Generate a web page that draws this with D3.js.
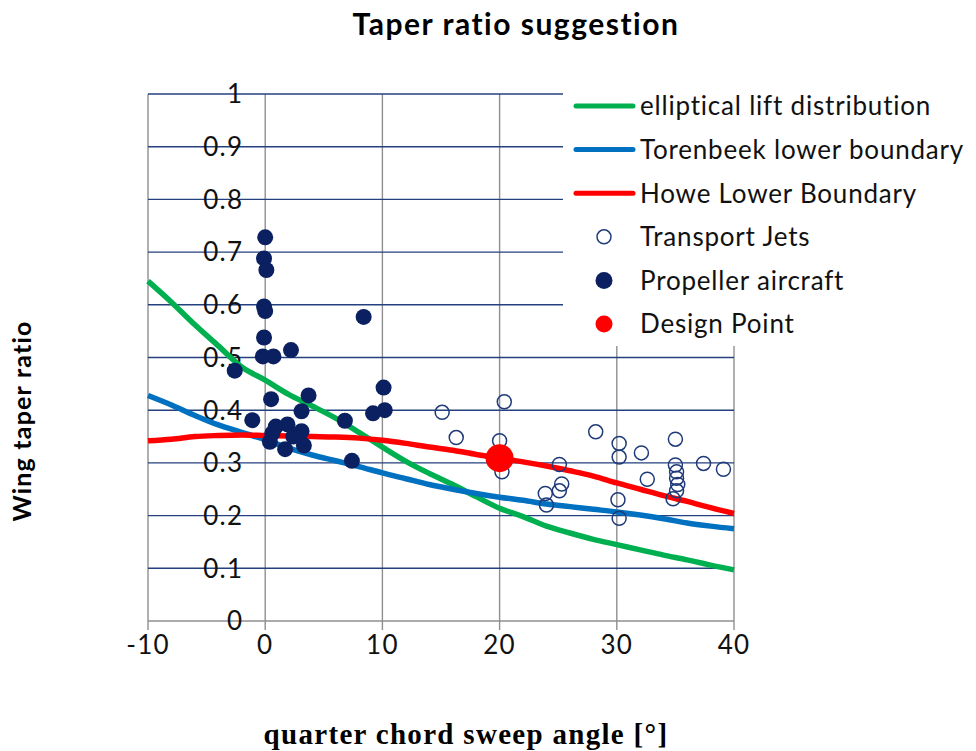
<!DOCTYPE html>
<html>
<head>
<meta charset="utf-8">
<script src="https://cdn.jsdelivr.net/npm/d3@7"></script>
<style>
  html, body { margin: 0; padding: 0; background: #fff; }
  svg { display: block; }
</style>
</head>
<body>
<svg id="chart" width="976" height="751"></svg>
<script>
// Sweep angle sample points for the boundary curves (deg)
const sweepGrid = [-10, -8, -6, -4, -2, 0, 2, 4, 6, 8, 10, 12, 14, 16, 18, 20, 22, 24, 26, 28, 30, 32, 34, 36, 38, 40];
const ellipticalLift = [0.645, 0.605, 0.562, 0.522, 0.482, 0.457, 0.430, 0.408, 0.385, 0.358, 0.330, 0.303, 0.280, 0.259, 0.236, 0.214, 0.198, 0.180, 0.167, 0.155, 0.145, 0.135, 0.125, 0.116, 0.106, 0.097];
const torenbeekLower = [0.428, 0.410, 0.390, 0.372, 0.358, 0.344, 0.328, 0.315, 0.304, 0.293, 0.281, 0.270, 0.259, 0.250, 0.242, 0.235, 0.229, 0.222, 0.217, 0.212, 0.207, 0.201, 0.194, 0.186, 0.180, 0.175];
const howeLower = [0.342, 0.345, 0.350, 0.352, 0.353, 0.352, 0.351, 0.350, 0.349, 0.347, 0.343, 0.337, 0.330, 0.324, 0.316, 0.309, 0.302, 0.294, 0.285, 0.275, 0.262, 0.250, 0.238, 0.227, 0.215, 0.204];

// Transport jets: sweep angle and taper ratio
const jetSweep = [15.1, 20.4, 16.3, 20.0, 20.2, 25.1, 25.3, 25.1, 23.9, 24.0, 28.2, 30.2, 30.2, 32.1, 32.6, 30.1, 30.2, 35.0, 35.0, 35.1, 35.1, 35.2, 35.1, 34.8, 37.4, 39.1];
const jetTaper = [0.396, 0.416, 0.348, 0.342, 0.283, 0.297, 0.260, 0.247, 0.242, 0.220, 0.359, 0.337, 0.311, 0.319, 0.269, 0.230, 0.195, 0.345, 0.296, 0.283, 0.271, 0.259, 0.247, 0.232, 0.299, 0.288];

// Propeller aircraft: sweep angle and taper ratio
const propSweep = [0.0, -0.1, 0.1, -0.1, 0.0, 8.4, -0.1, -0.2, 0.7, 2.2, -2.6, 10.1, 0.5, 3.7, -1.1, 3.1, 6.8, 9.2, 10.2, 0.9, 1.9, 0.6, 3.1, 0.4, 2.4, 1.7, 3.3, 7.4];
const propTaper = [0.728, 0.688, 0.666, 0.597, 0.588, 0.577, 0.538, 0.502, 0.502, 0.514, 0.475, 0.443, 0.421, 0.428, 0.381, 0.398, 0.380, 0.394, 0.400, 0.369, 0.373, 0.356, 0.360, 0.340, 0.350, 0.326, 0.333, 0.304];

// Chosen design point
const designSweep = [20.0];
const designTaper = [0.309];

// Axis ticks
const xTicks = [-10, 0, 10, 20, 30, 40];
const yTicks = [0, 0.1, 0.2, 0.3, 0.4, 0.5, 0.6, 0.7, 0.8, 0.9, 1];
const yTickLabels = ["0", "0.1", "0.2", "0.3", "0.4", "0.5", "0.6", "0.7", "0.8", "0.9", "1"];

const legendItems = [
  { label: "elliptical lift distribution", type: "line", color: "#00b050" },
  { label: "Torenbeek lower boundary", type: "line", color: "#0070c0" },
  { label: "Howe Lower Boundary", type: "line", color: "#ff0000" },
  { label: "Transport Jets", type: "open", color: "#1f3a78" },
  { label: "Propeller aircraft", type: "dot", color: "#0b2060" },
  { label: "Design Point", type: "dot", color: "#ff0000" }
];

const svg = d3.select("#chart");
const sansFont = "Lato, 'Open Sans', 'DejaVu Sans', sans-serif";

const x = d3.scaleLinear().domain([-10, 40]).range([148, 734]);
const y = d3.scaleLinear().domain([0, 1]).range([621, 94]);

const grid = svg.append("g");

// vertical gridlines (extend below the axis as tick marks)
grid.selectAll("line.v").data(xTicks).join("line")
  .attr("x1", d => x(d)).attr("x2", d => x(d))
  .attr("y1", y(1)).attr("y2", y(0) + 9)
  .attr("stroke", "#8f8f8f").attr("stroke-width", 1.4);

// horizontal gridlines
grid.selectAll("line.h").data(yTicks).join("line")
  .attr("x1", x(-10)).attr("x2", x(40))
  .attr("y1", d => y(d)).attr("y2", d => y(d))
  .attr("stroke", d => d === 0 ? "#8f8f8f" : "#24407e")
  .attr("stroke-width", 1.4);

// y tick labels sit left of the axis at zero sweep
svg.append("g").selectAll("text").data(yTicks).join("text")
  .attr("x", x(0) - 22).attr("y", d => y(d))
  .attr("dy", "0.36em")
  .attr("text-anchor", "end")
  .attr("font-family", sansFont).attr("font-size", 26)
  .attr("letter-spacing", 1.2)
  .attr("fill", "#111")
  .text((d, i) => yTickLabels[i]);

// x tick labels
svg.append("g").selectAll("text").data(xTicks).join("text")
  .attr("x", d => x(d)).attr("y", y(0) + 33)
  .attr("text-anchor", "middle")
  .attr("font-family", sansFont).attr("font-size", 26)
  .attr("letter-spacing", 1.2)
  .attr("fill", "#111")
  .text(d => d);

// boundary curves
const line = d3.line()
  .x(d => x(d[0])).y(d => y(d[1]))
  .curve(d3.curveMonotoneX);

const curves = [
  { values: ellipticalLift, color: "#00b050" },
  { values: torenbeekLower, color: "#0070c0" },
  { values: howeLower, color: "#ff0000" }
];
svg.append("g").selectAll("path").data(curves).join("path")
  .attr("d", c => line(sweepGrid.map((s, i) => [s, c.values[i]])))
  .attr("fill", "none")
  .attr("stroke", c => c.color)
  .attr("stroke-width", 5.5)
  .attr("stroke-linejoin", "round");

// transport jets (open circles)
svg.append("g").selectAll("circle").data(jetSweep.map((s, i) => [s, jetTaper[i]])).join("circle")
  .attr("cx", d => x(d[0])).attr("cy", d => y(d[1]))
  .attr("r", 7)
  .attr("fill", "none")
  .attr("stroke", "#1f3a78").attr("stroke-width", 1.5);

// propeller aircraft (filled)
svg.append("g").selectAll("circle").data(propSweep.map((s, i) => [s, propTaper[i]])).join("circle")
  .attr("cx", d => x(d[0])).attr("cy", d => y(d[1]))
  .attr("r", 8)
  .attr("fill", "#0b2060");

// design point
svg.append("g").selectAll("circle").data(designSweep.map((s, i) => [s, designTaper[i]])).join("circle")
  .attr("cx", d => x(d[0])).attr("cy", d => y(d[1]))
  .attr("r", 14)
  .attr("fill", "#ff0000");

// legend
const legend = svg.append("g");
legend.append("rect")
  .attr("x", 563).attr("y", 84).attr("width", 413).attr("height", 262)
  .attr("fill", "#fff");
const rows = legend.selectAll("g").data(legendItems).join("g")
  .attr("transform", (d, i) => `translate(0, ${106 + i * 43.6})`);
rows.filter(d => d.type === "line").append("line")
  .attr("x1", 576).attr("x2", 633).attr("y1", 0).attr("y2", 0)
  .attr("stroke", d => d.color).attr("stroke-width", 5).attr("stroke-linecap", "round");
rows.filter(d => d.type === "open").append("circle")
  .attr("cx", 604).attr("cy", 0).attr("r", 7)
  .attr("fill", "none").attr("stroke", d => d.color).attr("stroke-width", 1.5);
rows.filter(d => d.type === "dot").append("circle")
  .attr("cx", 604).attr("cy", 0).attr("r", 8.5)
  .attr("fill", d => d.color);
rows.append("text")
  .attr("x", 640).attr("y", 0).attr("dy", "0.36em")
  .attr("font-family", sansFont).attr("font-size", 26)
  .attr("letter-spacing", 0.8)
  .attr("fill", "#111")
  .text(d => d.label);

// titles
svg.append("text")
  .attr("x", 516).attr("y", 35)
  .attr("text-anchor", "middle")
  .attr("font-family", sansFont).attr("font-weight", "bold").attr("font-size", 30)
  .attr("letter-spacing", 1.5)
  .attr("fill", "#000")
  .text("Taper ratio suggestion");

svg.append("text")
  .attr("transform", "translate(31, 421) rotate(-90)")
  .attr("text-anchor", "middle")
  .attr("font-family", sansFont).attr("font-weight", "bold").attr("font-size", 25)
  .attr("letter-spacing", 1.2)
  .attr("fill", "#000")
  .text("Wing taper ratio");

svg.append("text")
  .attr("x", 466).attr("y", 744)
  .attr("text-anchor", "middle")
  .attr("font-family", "'Liberation Serif', 'DejaVu Serif', serif")
  .attr("font-weight", "bold").attr("font-size", 29)
  .attr("letter-spacing", 1.3)
  .attr("fill", "#000")
  .text("quarter chord sweep angle [°]");
</script>
</body>
</html>
